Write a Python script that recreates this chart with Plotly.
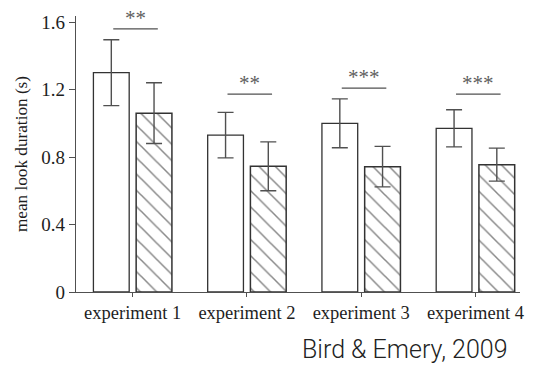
import plotly.graph_objects as go

# Mean look duration per experiment (open = first condition, hatched = second)
experiments = ["experiment 1", "experiment 2", "experiment 3", "experiment 4"]
open_means = [1.30, 0.93, 1.00, 0.97]
open_err = [0.195, 0.135, 0.145, 0.11]
hatched_means = [1.06, 0.745, 0.743, 0.755]
hatched_err = [0.18, 0.145, 0.12, 0.098]

# Significance markers above each pair
sig_labels = ["**", "**", "***", "***"]
sig_heights = [1.56, 1.173, 1.208, 1.173]

y_ticks = [0, 0.4, 0.8, 1.2, 1.6]
y_tick_text = ["0", "0.4", "0.8", "1.2", "1.6"]

AXIS = "#505050"
EDGE = "#333333"
TEXT = "#1e1e1e"
SERIF = "Liberation Serif, Times New Roman, serif"

fig = go.Figure()

fig.add_trace(go.Bar(
    x=experiments, y=open_means,
    marker=dict(color="white", line=dict(color=EDGE, width=1.3)),
    error_y=dict(type="data", array=open_err, color=AXIS, thickness=1.4, width=8),
    showlegend=False,
))
fig.add_trace(go.Bar(
    x=experiments, y=hatched_means,
    marker=dict(color="white", line=dict(color=EDGE, width=1.5),
                pattern=dict(shape="\\", fgcolor="#111111", bgcolor="white",
                             size=11.5, solidity=0.13)),
    error_y=dict(type="data", array=hatched_err, color=AXIS, thickness=1.4, width=8),
    showlegend=False,
))

# Significance bars and stars
for i, (lab, h) in enumerate(zip(sig_labels, sig_heights)):
    x0, x1 = i - 0.17, i + 0.22
    fig.add_shape(type="line", xref="x", yref="y", x0=x0, x1=x1, y0=h, y1=h,
                  line=dict(color=AXIS, width=1.3))
    fig.add_annotation(x=(x0 + x1) / 2, y=h, xref="x", yref="y", text=lab,
                       showarrow=False, yanchor="bottom", yshift=-3,
                       font=dict(family=SERIF, size=21, color="#606060"))

# Source credit
fig.add_annotation(x=1, y=0, xref="paper", yref="paper", text="Bird & Emery, 2009",
                   showarrow=False, xanchor="right", yanchor="middle",
                   xshift=-10, yshift=-57,
                   font=dict(family="Roboto, Open Sans, sans-serif", size=25,
                             color="#222222", weight=300))

fig.update_layout(
    width=536, height=367,
    margin=dict(l=76, r=13, t=13, b=75),
    paper_bgcolor="white", plot_bgcolor="white",
    barmode="group", bargap=0.252, bargroupgap=0.163,
    font=dict(family=SERIF, size=19, color=TEXT),
)
fig.update_xaxes(
    range=[-0.496, 3.39], showline=True, linecolor=AXIS, linewidth=1.3,
    ticks="outside", ticklen=4, tickcolor=AXIS, showgrid=False, zeroline=False,
    tickfont=dict(family=SERIF, size=18.5, color=TEXT),
)
fig.update_yaxes(
    range=[0, 1.636], tickvals=y_ticks, ticktext=y_tick_text,
    showline=True, linecolor=AXIS, linewidth=1.3,
    ticks="outside", ticklen=6, tickcolor=AXIS, showgrid=False, zeroline=False,
    tickfont=dict(family=SERIF, size=19, color=TEXT),
    title=dict(text="mean look duration (s)", standoff=9,
               font=dict(family=SERIF, size=17.2, color=TEXT)),
)

fig.write_html("out.html")
